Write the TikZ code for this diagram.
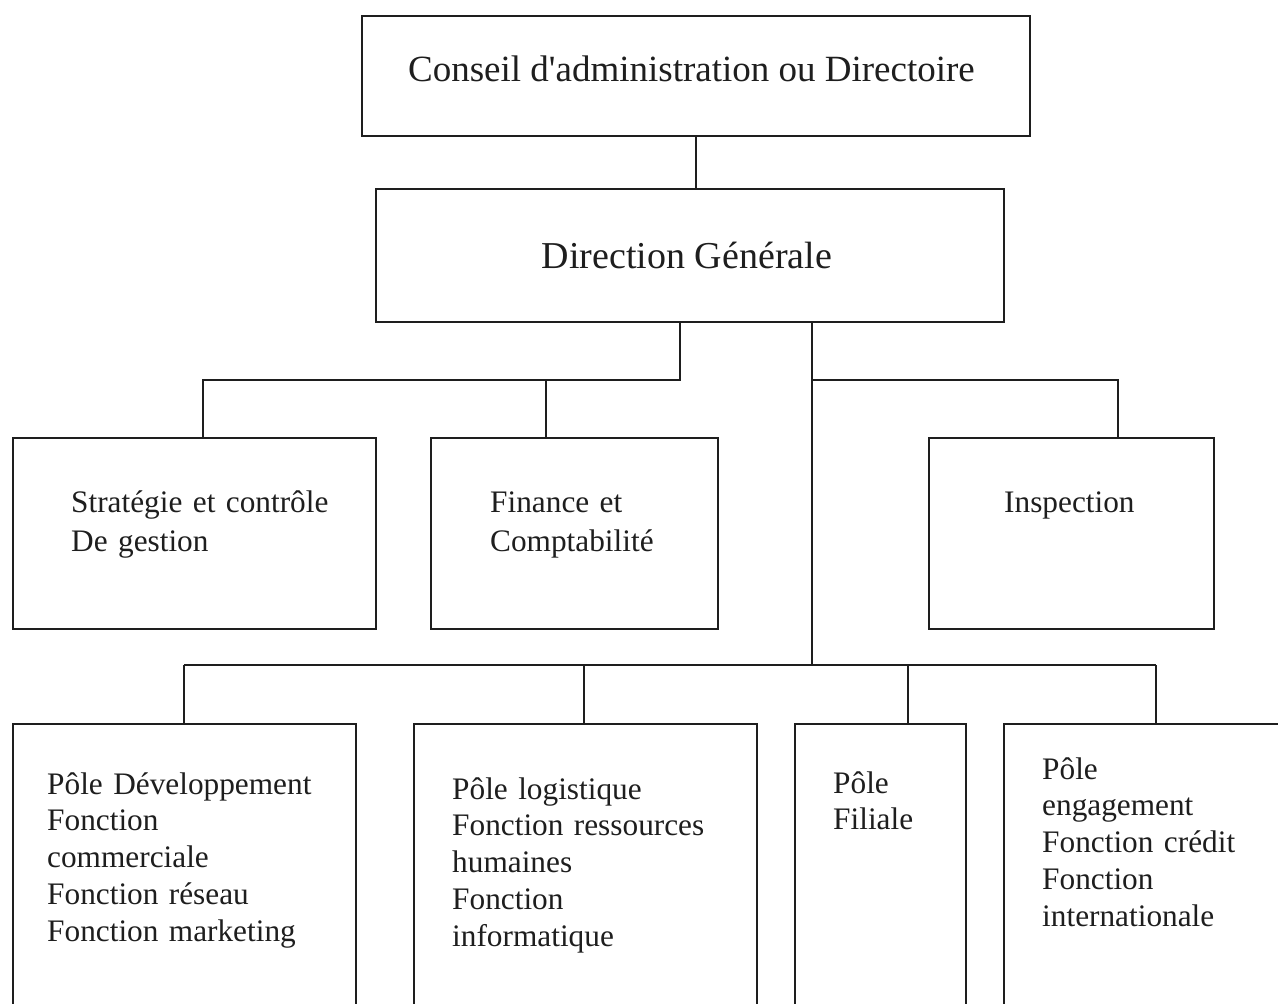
\documentclass[tikz,border=0pt]{standalone}
\usepackage{fontspec}
\setmainfont{Liberation Serif}
\definecolor{ink}{HTML}{1E1E1E}
\begin{document}
\begin{tikzpicture}[x=1pt,y=-1pt,
  frame/.style={draw=ink, line width=1.8pt, inner sep=0pt, anchor=north west},
  wire/.style={draw=ink, line width=1.8pt},
  toptxt/.style={text=ink, inner sep=0pt, anchor=base},
  midtxt/.style={text=ink, inner sep=0pt, anchor=base west, text width=400pt, align=left,
    font=\fontsize{31.3}{39}\selectfont},
  lowtxt/.style={text=ink, inner sep=0pt, anchor=base west, text width=400pt, align=left,
    font=\fontsize{31.3}{36.75}\selectfont}]
\useasboundingbox (0,0) rectangle (1278,1004);
\fill[white] (0,0) rectangle (1278,1004);
\clip (0,0) rectangle (1278,1004);

% boxes
\node[frame, minimum width=668pt, minimum height=120pt] (conseil) at (361,15) {};
\node[frame, minimum width=628pt, minimum height=133pt] (dg) at (375,188) {};
\node[frame, minimum width=363pt, minimum height=191pt] (strat) at (12,437) {};
\node[frame, minimum width=287pt, minimum height=191pt] (fin) at (430,437) {};
\node[frame, minimum width=285pt, minimum height=191pt] (insp) at (928,437) {};
\node[frame, minimum width=343pt, minimum height=310pt] (pdev) at (12,723) {};
\node[frame, minimum width=343pt, minimum height=310pt] (plog) at (413,723) {};
\node[frame, minimum width=171pt, minimum height=310pt] (pfil) at (794,723) {};
\node[frame, minimum width=320pt, minimum height=310pt] (peng) at (1003,723) {};

% labels
\node[toptxt, font=\fontsize{37}{44}\selectfont] (tconseil) at (691.5,81)
  {Conseil d\textquotesingle administration ou Directoire};
\node[toptxt, font=\fontsize{38}{45}\selectfont] (tdg) at (687,268) {Direction Générale};
\node[midtxt] (tstrat) at (71,512) {Stratégie et contrôle\\De gestion};
\node[midtxt] (tfin) at (490,512) {Finance et\\Comptabilité};
\node[midtxt] (tinsp) at (1004,512) {Inspection};
\node[lowtxt] (tdev) at (47,794)
  {Pôle Développement\\Fonction\\commerciale\\Fonction réseau\\Fonction marketing};
\node[lowtxt] (tlog) at (452,799)
  {Pôle logistique\\Fonction ressources\\humaines\\Fonction\\informatique};
\node[lowtxt] (tfil) at (833,793) {Pôle\\Filiale};
\node[lowtxt] (teng) at (1042,779)
  {Pôle\\engagement\\Fonction crédit\\Fonction\\internationale};

% bus corners and drop points
\coordinate (busA) at (680,380);
\coordinate (busB) at (812,380);
\coordinate (busC) at (812,665);
\coordinate (dropS) at (203,380);
\coordinate (dropF) at (546,380);
\coordinate (dropI) at (1118,380);
\coordinate (dropD) at (184,665);
\coordinate (dropL) at (584,665);
\coordinate (dropP) at (908,665);
\coordinate (dropE) at (1156,665);

% connectors
\draw[wire] (conseil.south) -- (conseil.south |- dg.north);
\draw[wire] (dg.south -| busA) -- (busA) -- (dropS) -- (dropS |- strat.north);
\draw[wire] (dropF) -- (dropF |- fin.north);
\draw[wire] (dg.south -| busB) -- (busC);
\draw[wire] (busB) -- (dropI) -- (dropI |- insp.north);
\draw[wire] (dropD) -- (dropE);
\foreach \d/\b in {dropD/pdev, dropL/plog, dropP/pfil, dropE/peng}
  \draw[wire] (\d) -- (\d |- \b.north);
\end{tikzpicture}
\end{document}
